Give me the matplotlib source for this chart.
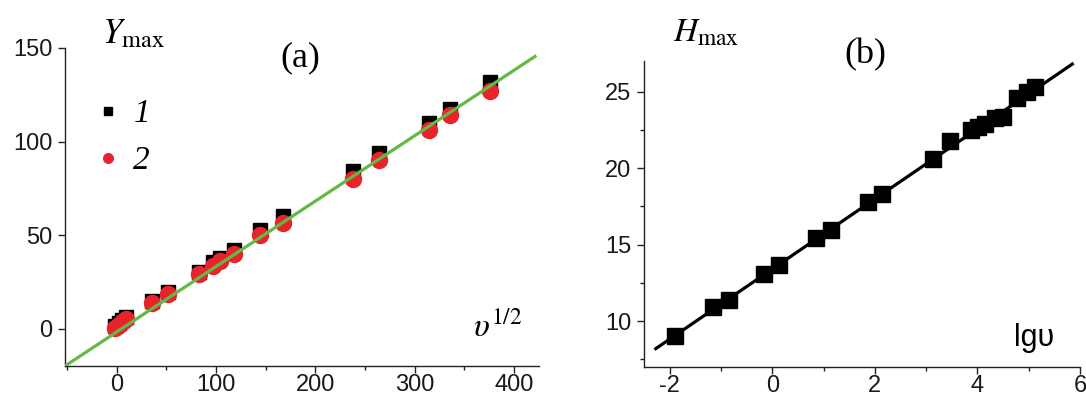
import numpy as np
import matplotlib
matplotlib.use('Agg')
import matplotlib.pyplot as plt
from matplotlib.ticker import MultipleLocator

# panel (a): Y_max vs v^(1/2)
xa = [-2, 2, 5, 9, 36, 52, 83, 97, 104, 118, 144, 167, 238, 264, 314, 335, 376]
ya1 = [1.5, 3, 4.5, 6, 14.5, 19.5, 30.5, 35.5, 37.5, 42, 52.5, 60, 84, 94, 110, 117.5, 132]
ya2 = [0.5, 2, 3.5, 5, 13.5, 18.5, 29, 33.5, 36, 40, 50, 56.5, 80, 90, 106, 114, 127]
fit_a_x = [-52, 421]
fit_a_y = [-20, 145.5]

# panel (b): H_max vs lg v
xb = [-1.89, -1.15, -0.84, -0.17, 0.14, 0.85, 1.14, 1.86, 2.14, 3.14, 3.46,
      3.88, 4.02, 4.15, 4.35, 4.5, 4.78, 4.97, 5.12]
yb = [9.0, 10.93, 11.36, 13.09, 13.67, 15.44, 15.94, 17.77, 18.31, 20.62, 21.8,
      22.47, 22.7, 22.9, 23.3, 23.35, 24.55, 24.95, 25.3]
fit_b_x = [-2.27, 5.85]
fit_b_y = [8.2, 26.8]

plt.rcParams['font.family'] = ['Liberation Sans', 'DejaVu Sans']
plt.rcParams['mathtext.fontset'] = 'stix'
plt.rcParams['axes.unicode_minus'] = False

fig = plt.figure(figsize=(10.86, 3.96), dpi=100)
ax1 = fig.add_axes([65/1086, 30/396, 474/1086, 318/396])
ax2 = fig.add_axes([644/1086, 29/396, 436/1086, 306/396])

red = '#e8232b'
ax1.plot(fit_a_x, fit_a_y, color='#62b946', lw=2.3, zorder=3)
ax1.plot(xa, ya1, 's', color='black', ms=10.5, label='1', zorder=2)
ax1.plot(xa, ya2, 'o', color=red, ms=11.5, mec=red, label='2', zorder=2.5)
ax1.set_xlim(-52, 425)
ax1.set_ylim(-20, 150)
ax1.set_xticks([0, 100, 200, 300, 400])
ax1.set_yticks([0, 50, 100, 150])
ax1.xaxis.set_minor_locator(MultipleLocator(50))

ax2.plot(fit_b_x, fit_b_y, color='black', lw=2.3)
ax2.plot(xb, yb, 's', color='black', ms=11.5)
ax2.set_xlim(-2.5, 6)
ax2.set_ylim(7, 27)
ax2.set_xticks([-2, 0, 2, 4, 6])
ax2.set_yticks([10, 15, 20, 25])
ax2.xaxis.set_minor_locator(MultipleLocator(1))
ax2.yaxis.set_minor_locator(MultipleLocator(2.5))

for ax in (ax1, ax2):
    ax.spines['top'].set_visible(False)
    ax.spines['right'].set_visible(False)
    for s in ('left', 'bottom'):
        ax.spines[s].set_linewidth(1.0)
        ax.spines[s].set_color('#222222')
    ax.tick_params(which='major', direction='out', length=5, width=1,
                   labelsize=17, pad=4, color='#222222', labelcolor='#1a1a1a')
    ax.tick_params(which='minor', direction='out', length=3, width=1, color='#222222')
    ax.tick_params(axis='x', which='major', pad=1)

leg = ax1.legend(loc='upper left', bbox_to_anchor=(0.0, 0.935), frameon=False,
                 markerscale=0.6, handlelength=0.8, handletextpad=0.35,
                 labelspacing=0.5, prop={'family': 'Liberation Serif', 'style': 'italic', 'size': 24})

ax1.text(0.86, 0.09, r'$\upsilon^{1/2}$', transform=ax1.transAxes, fontsize=24,
         ha='left', va='baseline')
ax2.text(0.848, 0.07, 'lgυ', transform=ax2.transAxes, fontsize=22,
         ha='left', va='baseline')

fig.text(102/1086, 1 - 43/396, r'$Y_{\mathrm{max}}$', fontsize=25, ha='left', va='baseline')
fig.text(673/1086, 1 - 42/396, r'$H_{\mathrm{max}}$', fontsize=24, ha='left', va='baseline')
fig.text(300/1086, 1 - 58/396, '(a)', family='Liberation Serif', fontsize=26, ha='center', va='center')
fig.text(865/1086, 1 - 55/396, '(b)', family='Liberation Serif', fontsize=26, ha='center', va='center')

fig.savefig('out.png', dpi=100)
